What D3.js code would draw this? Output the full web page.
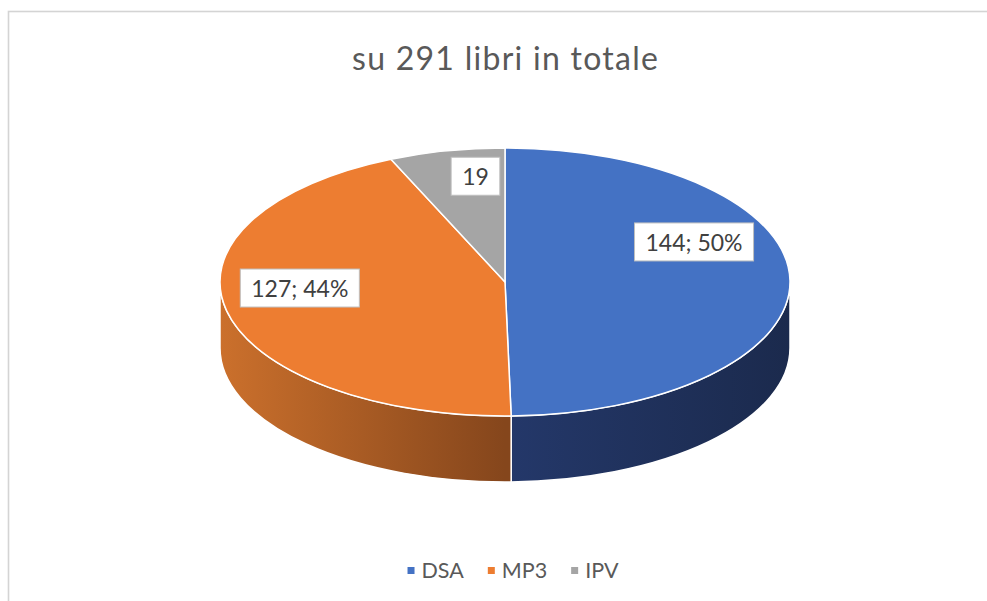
<!DOCTYPE html>
<html>
<head>
<meta charset="utf-8">
<script src="https://cdn.jsdelivr.net/npm/d3@7"></script>
<style>
  html, body { margin: 0; padding: 0; background: #ffffff; }
  svg { display: block; }
</style>
</head>
<body>
<svg id="chart" width="987" height="601"></svg>
<script>
// ---- data ----
const categories = ["DSA", "MP3", "IPV"];
const values = [144, 127, 19];
const labelTexts = ["144; 50%", "127; 44%", "19"];
const titleText = "su 291 libri in totale";

// ---- styles / layout ----
const topColors = ["#4472C4", "#ED7D31", "#A5A5A5"];
const sideStops = [["#24386A", "#1B2A4D"], ["#CB702C", "#85461C"], ["#7A7A7A", "#5A5A5A"]];
const W = 987, H = 601;
const cx = 505, cy = 282, rx = 285, ry = 134, depth = 66;
const labelR = 0.73;
const labelNudge = [[-19, -39], [-2, -15], [13, -10]];
const font = "Lato, 'Open Sans', sans-serif";

const svg = d3.select("#chart");

// chart frame
svg.append("rect")
  .attr("x", 8.5).attr("y", 11.5)
  .attr("width", W + 20).attr("height", H + 20)
  .attr("fill", "#ffffff")
  .attr("stroke", "#D4D4D4").attr("stroke-width", 1.6);

// cut-off text above the frame
svg.append("text").attr("x", 598).attr("y", -6)
  .attr("font-family", font).attr("font-size", 40).attr("fill", "#111")
  .text("(");
svg.append("text").attr("x", 664).attr("y", -6)
  .attr("font-family", font).attr("font-size", 40).attr("fill", "#111")
  .text(")");

// title
svg.append("text")
  .attr("x", cx).attr("y", 70)
  .attr("text-anchor", "middle")
  .attr("font-family", font).attr("font-size", 32)
  .attr("textLength", 306).attr("lengthAdjust", "spacing")
  .attr("fill", "#595959")
  .text(titleText);

// ---- pie layout ----
const pie = d3.pie().sort(null).value(d => d.value);
const arcs = pie(categories.map((c, i) => ({ cat: c, value: values[i], i })));

const px = a => cx + rx * Math.sin(a);
const py = a => cy - ry * Math.cos(a);

const defs = svg.append("defs");
sideStops.forEach((s, i) => {
  const g = defs.append("linearGradient")
    .attr("id", "side" + i)
    .attr("gradientUnits", "userSpaceOnUse")
    .attr("x1", i === 1 ? cx - rx : cx).attr("x2", i === 1 ? cx : cx + rx)
    .attr("y1", 0).attr("y2", 0);
  g.append("stop").attr("offset", "0%").attr("stop-color", s[0]);
  g.append("stop").attr("offset", "100%").attr("stop-color", s[1]);
});

// side faces (front half: angles between PI/2 and 3PI/2)
const sideG = svg.append("g");
arcs.forEach(d => {
  const s0 = Math.max(d.startAngle, Math.PI / 2);
  const s1 = Math.min(d.endAngle, 3 * Math.PI / 2);
  if (s1 <= s0) return;
  const large = (s1 - s0) > Math.PI ? 1 : 0;
  const p = `M${px(s0)},${py(s0)}` +
    ` A${rx},${ry} 0 ${large} 1 ${px(s1)},${py(s1)}` +
    ` L${px(s1)},${py(s1) + depth}` +
    ` A${rx},${ry} 0 ${large} 0 ${px(s0)},${py(s0) + depth} Z`;
  sideG.append("path")
    .attr("d", p)
    .attr("fill", `url(#side${d.data.i})`)
    .attr("stroke", "#ffffff").attr("stroke-width", 1.5)
    .attr("stroke-linejoin", "round");
});

// top faces
const topG = svg.append("g");
arcs.forEach(d => {
  const a0 = d.startAngle, a1 = d.endAngle;
  const large = (a1 - a0) > Math.PI ? 1 : 0;
  const p = `M${cx},${cy} L${px(a0)},${py(a0)}` +
    ` A${rx},${ry} 0 ${large} 1 ${px(a1)},${py(a1)} Z`;
  topG.append("path")
    .attr("d", p)
    .attr("fill", topColors[d.data.i])
    .attr("stroke", "#ffffff").attr("stroke-width", 1.5)
    .attr("stroke-linejoin", "round");
});

// data labels
const labG = svg.append("g");
arcs.forEach(d => {
  const m = (d.startAngle + d.endAngle) / 2;
  const lx = cx + rx * labelR * Math.sin(m) + labelNudge[d.data.i][0];
  const ly = cy - ry * labelR * Math.cos(m) + labelNudge[d.data.i][1];
  const g = labG.append("g");
  const rect = g.append("rect").attr("fill", "#ffffff")
    .attr("stroke", "#BFBFBF").attr("stroke-width", 1);
  const t = g.append("text")
    .attr("x", lx).attr("y", ly)
    .attr("text-anchor", "middle").attr("dominant-baseline", "central")
    .attr("font-family", font).attr("font-size", 23)
    .attr("fill", "#404040")
    .text(labelTexts[d.data.i]);
  const tw = t.node().getComputedTextLength();
  const padX = 11, h = 38;
  rect.attr("x", lx - tw / 2 - padX).attr("y", ly - h / 2)
    .attr("width", tw + 2 * padX).attr("height", h);
});

// legend
const legG = svg.append("g");
const legY = 578, sq = 7, gapSq = 7, gapItem = 24;
const items = categories.map((c, i) => {
  const t = legG.append("text")
    .attr("y", legY)
    .attr("font-family", font).attr("font-size", 21.5)
    .attr("fill", "#595959").text(c);
  return { t, w: t.node().getComputedTextLength(), i };
});
const totalW = items.reduce((s, it) => s + sq + gapSq + it.w, 0) + gapItem * (items.length - 1);
let x = cx + 8 - totalW / 2;
items.forEach(it => {
  legG.append("rect")
    .attr("x", x).attr("y", legY - 7.5 - sq / 2)
    .attr("width", sq).attr("height", sq)
    .attr("fill", topColors[it.i]);
  it.t.attr("x", x + sq + gapSq);
  x += sq + gapSq + it.w + gapItem;
});
</script>
</body>
</html>
